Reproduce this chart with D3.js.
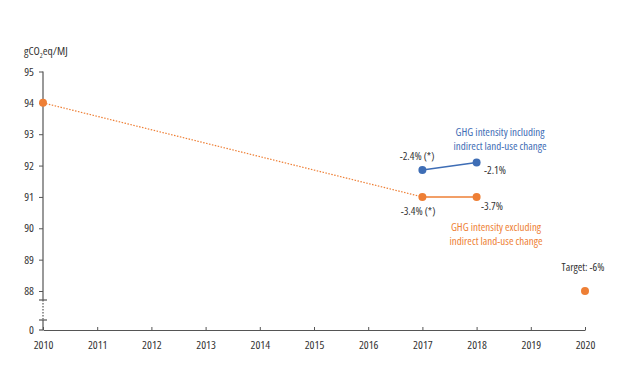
<!DOCTYPE html>
<html>
<head>
<meta charset="utf-8">
<script src="https://cdn.jsdelivr.net/npm/d3@7"></script>
<style>
  body { margin: 0; background: #fff; }
  text { font-family: "Open Sans", sans-serif; font-stretch: 80%; fill: #333; }
</style>
</head>
<body>
<svg width="630" height="390"></svg>
<script>
// values
const years = [2010, 2011, 2012, 2013, 2014, 2015, 2016, 2017, 2018, 2019, 2020];
const yTicks = [88, 89, 90, 91, 92, 93, 94, 95];
const trendLine = [{year: 2010, v: 94.0}, {year: 2017, v: 91.0}];   // dotted
const excluding = [{year: 2017, v: 91.0}, {year: 2018, v: 91.0}];
const including = [{year: 2017, v: 91.86}, {year: 2018, v: 92.1}];
const target = [{year: 2020, v: 88.0}];

const ORANGE = '#ee7f35';
const BLUE = '#3e6db5';
const AXIS = '#555';

const svg = d3.select('svg');
const x = d3.scaleLinear().domain([2010, 2020]).range([43, 585]);
const y = d3.scaleLinear().domain([88, 95]).range([291, 71.5]);
const ZERO_Y = 330;

// x axis, ticks pointing up
const xAxis = svg.append('g').attr('transform', `translate(0,${ZERO_Y})`)
  .call(d3.axisTop(x).tickValues(years).tickFormat(d3.format('d')).tickSize(3).tickSizeOuter(0));
xAxis.select('.domain').attr('stroke', AXIS).attr('stroke-width', 1.2);
xAxis.selectAll('.tick line').attr('stroke', AXIS);
xAxis.selectAll('.tick text').attr('y', 11).attr('dy', '0.71em')
  .attr('font-size', 11.5).attr('fill', '#333');

// y axis (upper part)
const yAxis = svg.append('g').attr('transform', 'translate(43,0)')
  .call(d3.axisLeft(y).tickValues(yTicks).tickFormat(d3.format('d')).tickSize(4).tickSizeOuter(0));
yAxis.select('.domain').remove();
yAxis.selectAll('.tick line').attr('stroke', AXIS);
yAxis.selectAll('.tick text').attr('font-size', 11.5).attr('fill', '#333').attr('x', -9);

// y axis line with break
const ax = svg.append('g').attr('stroke', AXIS).attr('stroke-width', 1.2);
ax.append('line').attr('x1', 43).attr('x2', 43).attr('y1', y(95)).attr('y2', 300);
ax.append('line').attr('x1', 43).attr('x2', 43).attr('y1', 300).attr('y2', 320)
  .attr('stroke-dasharray', '1.5,1.5');
ax.append('line').attr('x1', 43).attr('x2', 43).attr('y1', 320).attr('y2', ZERO_Y);
ax.append('line').attr('x1', 39).attr('x2', 47).attr('y1', 300).attr('y2', 300);
ax.append('line').attr('x1', 39).attr('x2', 47).attr('y1', 320).attr('y2', 320);
ax.append('line').attr('x1', 39).attr('x2', 43).attr('y1', ZERO_Y).attr('y2', ZERO_Y);
svg.append('text').attr('x', 34).attr('y', ZERO_Y).attr('dy', '0.32em')
  .attr('text-anchor', 'end').attr('font-size', 11.5).text('0');

// unit label
const unit = svg.append('text').attr('x', 24).attr('y', 55).attr('font-size', 11.5);
unit.append('tspan').text('gCO');
unit.append('tspan').attr('font-size', 7).attr('dy', 3).text('2');
unit.append('tspan').attr('dy', -3).text('eq/MJ');

const line = d3.line().x(d => x(d.year)).y(d => y(d.v));

svg.append('path').datum(trendLine).attr('d', line).attr('fill', 'none')
  .attr('stroke', ORANGE).attr('stroke-width', 1.2).attr('stroke-dasharray', '1.5,1.5');
svg.append('path').datum(excluding).attr('d', line).attr('fill', 'none')
  .attr('stroke', ORANGE).attr('stroke-width', 1.5);
svg.append('path').datum(including).attr('d', line).attr('fill', 'none')
  .attr('stroke', BLUE).attr('stroke-width', 1.5);

function dots(data, color) {
  svg.append('g').selectAll('circle').data(data).join('circle')
    .attr('cx', d => x(d.year)).attr('cy', d => y(d.v)).attr('r', 4).attr('fill', color);
}
dots([trendLine[0]], ORANGE);
dots(excluding, ORANGE);
dots(including, BLUE);
dots(target, ORANGE);

// annotations
function label(tx, ty, lines, color, anchor) {
  const t = svg.append('text').attr('x', tx).attr('y', ty).attr('font-size', 11)
    .attr('text-anchor', anchor || 'middle').style('fill', color || '#333');
  lines.forEach((s, i) => t.append('tspan').attr('x', tx).attr('dy', i ? 14 : 0).text(s));
}
label(417, 160, ['-2.4% (*)']);
label(484, 174, ['-2.1%'], null, 'start');
label(418, 215, ['-3.4% (*)']);
label(481, 210, ['-3.7%'], null, 'start');
label(500, 136, ['GHG intensity including', 'indirect land-use change'], BLUE);
label(496, 231, ['GHG intensity excluding', 'indirect land-use change'], ORANGE);
label(583, 271, ['Target: -6%']);
</script>
</body>
</html>
